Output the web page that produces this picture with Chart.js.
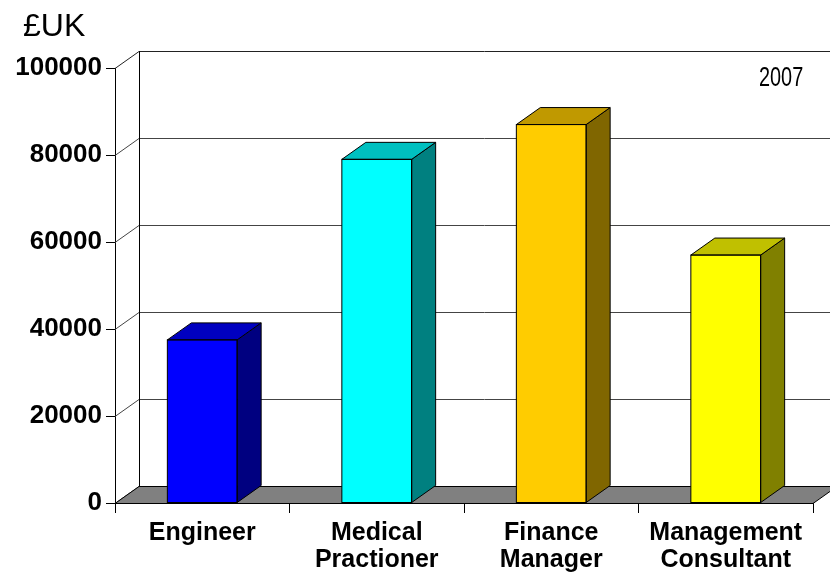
<!DOCTYPE html>
<html>
<head>
<meta charset="utf-8">
<script src="https://cdn.jsdelivr.net/npm/chart.js@4.4.1/dist/chart.umd.min.js"></script>
<style>
  html, body { margin: 0; padding: 0; background: #fff; }
  #wrap { width: 830px; height: 572px; position: relative; }
</style>
</head>
<body>
<div id="wrap"><canvas id="chart" width="830" height="572"></canvas></div>
<script>
// Chart data
const categories = [['Engineer'], ['Medical', 'Practioner'], ['Finance', 'Manager'], ['Management', 'Consultant']];
const salaries = [37500, 79000, 87000, 57000];
const yTicks = [0, 20000, 40000, 60000, 80000, 100000];

const frontColors = ['#0000ff', '#00ffff', '#ffcc00', '#ffff00'];
const topColors = ['#0000c0', '#00c0c0', '#c09900', '#c0c000'];
const sideColors = ['#000080', '#008080', '#806600', '#808000'];

// depth offset of the 3D box
const DX = 24, DY = 17;

const FONT = "'Liberation Sans', Arial, sans-serif";

// back wall, left wall and floor, behind the bars
const wallPlugin = {
    id: 'walls',
    beforeDatasetsDraw(chart) {
        const ctx = chart.ctx;
        const area = chart.chartArea;
        const y = chart.scales.y;
        const W = chart.width;
        ctx.save();

        // gridlines on back + left wall
        ctx.lineWidth = 1;
        yTicks.forEach(v => {
            const py = Math.round(y.getPixelForValue(v)) + 0.5;
            ctx.strokeStyle = v === 100000 ? '#222' : '#444';
            ctx.beginPath();
            ctx.moveTo(area.left, py);
            ctx.lineTo(area.left + DX, py - DY);
            ctx.lineTo(W, py - DY);
            ctx.stroke();
        });
        // back vertical edge
        ctx.strokeStyle = '#000';
        ctx.beginPath();
        ctx.moveTo(area.left + DX + 0.5, y.getPixelForValue(100000) - DY);
        ctx.lineTo(area.left + DX + 0.5, y.getPixelForValue(0) - DY);
        ctx.stroke();

        // floor
        const by = Math.round(y.getPixelForValue(0)) + 0.5;
        ctx.fillStyle = '#808080';
        ctx.beginPath();
        ctx.moveTo(area.left, by);
        ctx.lineTo(area.left + DX, by - DY);
        ctx.lineTo(area.right + DX, by - DY);
        ctx.lineTo(area.right, by);
        ctx.closePath();
        ctx.fill();
        ctx.strokeStyle = '#000';
        ctx.stroke();
        ctx.restore();
    },
    afterDatasetsDraw(chart) {
        const ctx = chart.ctx;
        const meta = chart.getDatasetMeta(0);
        ctx.save();
        ctx.lineWidth = 1;
        ctx.strokeStyle = '#000';
        meta.data.forEach((bar, i) => {
            const p = bar.getProps(['x', 'y', 'base', 'width'], true);
            const l = p.x - p.width / 2, r = p.x + p.width / 2;
            // side face
            ctx.fillStyle = sideColors[i];
            ctx.beginPath();
            ctx.moveTo(r, p.y);
            ctx.lineTo(r + DX, p.y - DY);
            ctx.lineTo(r + DX, p.base - DY);
            ctx.lineTo(r, p.base);
            ctx.closePath();
            ctx.fill();
            ctx.stroke();
            // top face
            ctx.fillStyle = topColors[i];
            ctx.beginPath();
            ctx.moveTo(l, p.y);
            ctx.lineTo(l + DX, p.y - DY);
            ctx.lineTo(r + DX, p.y - DY);
            ctx.lineTo(r, p.y);
            ctx.closePath();
            ctx.fill();
            ctx.stroke();
            // front outline, crisp black
            ctx.strokeRect(l, p.y, p.width, p.base - p.y);
        });
        ctx.restore();
    },
    afterDraw(chart) {
        const ctx = chart.ctx;
        ctx.save();
        ctx.fillStyle = '#000';
        ctx.textBaseline = 'alphabetic';
        ctx.font = '32px ' + FONT;
        ctx.fillText('£UK', 23, 36);
        // condensed year label
        ctx.font = '28px ' + FONT;
        ctx.translate(759, 86);
        ctx.scale(0.71, 1);
        ctx.fillText('2007', 0, 0);
        ctx.restore();
    }
};

new Chart(document.getElementById('chart'), {
    type: 'bar',
    data: {
        labels: categories,
        datasets: [{
            data: salaries,
            backgroundColor: frontColors,
            borderColor: '#000',
            borderWidth: 0,
            barPercentage: 0.4,
            categoryPercentage: 1
        }]
    },
    options: {
        responsive: false,
        animation: false,
        layout: { padding: { top: 68, right: 17, left: 0, bottom: 0 } },
        plugins: {
            legend: { display: false },
            tooltip: { enabled: false }
        },
        scales: {
            y: {
                min: 0,
                max: 100000,
                afterFit: s => { s.width = 115; },
                afterBuildTicks: s => { s.ticks = yTicks.map(v => ({ value: v })); },
                grid: { drawOnChartArea: false, tickLength: 9, color: '#000' },
                border: { color: '#000' },
                ticks: {
                    padding: 4,
                    color: '#000',
                    font: { family: FONT, size: 26, weight: 'bold' },
                    callback: v => String(v)
                }
            },
            x: {
                afterFit: s => { s.height = 69; },
                grid: { drawOnChartArea: false, tickLength: 10, color: '#000', offset: true },
                border: { color: '#000' },
                ticks: {
                    padding: 7,
                    color: '#000',
                    maxRotation: 0,
                    autoSkip: false,
                    font: { family: FONT, size: 25, weight: 'bold', lineHeight: 1.06 }
                }
            }
        }
    },
    plugins: [wallPlugin]
});
</script>
</body>
</html>
